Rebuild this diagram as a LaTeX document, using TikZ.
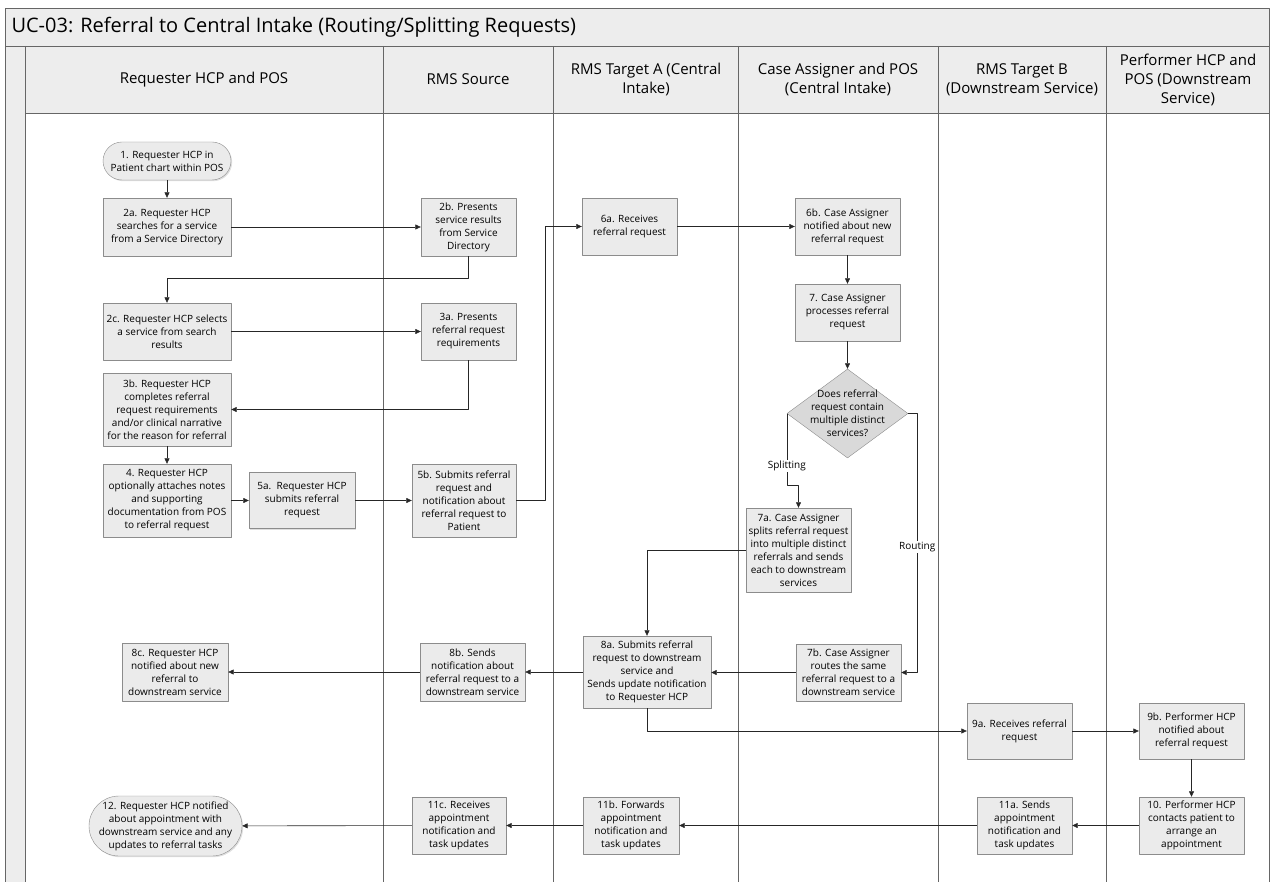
\documentclass[tikz,border=0pt]{standalone}
\usepackage{fontspec}
\setmainfont{Open Sans}
\usetikzlibrary{arrows.meta,shapes.geometric,shadows}
\begin{document}
\begin{tikzpicture}[x=1pt,y=-1pt,line join=round,>={Triangle[length=5.5pt,width=5pt]},
	lane/.style={draw=black!60,line width=0.8pt},
	band/.style={fill=black!7},
	hd/.style={align=center,font=\fontsize{15}{19}\selectfont},
	proc/.style 2 args={draw=black!45,fill=black!8,minimum width=#1,minimum height=#2,inner sep=1pt,align=center,font=\fontsize{10}{13}\selectfont,drop shadow={shadow xshift=1.2pt,shadow yshift=-1.2pt,opacity=0.25}},
	term/.style 2 args={proc={#1}{#2},rounded corners=#2/2},
	dec/.style={diamond,draw=black!45,fill=black!15,minimum width=121pt,minimum height=89pt,inner sep=0pt},
	conn/.style={draw=black!85,line width=0.6pt,->},
	lbl/.style={fill=white,inner sep=1pt,font=\fontsize{10}{12}\selectfont}]
	\useasboundingbox (0,0) rectangle (1271,882);
	% frame and lanes
	\fill[band] (5,8) rectangle (1269.5,113);
	\fill[band] (5,113) rectangle (25,882);
	\draw[lane] (5,882) -- (5,8) -- (1269.5,8) -- (1269.5,882);
	\draw[lane] (5,46) -- (1269.5,46) (25,113) -- (1269.5,113);
	\foreach \x in {25,383,553.5,738,938.5,1106}
		\draw[lane] (\x,46) -- (\x,882);
	\node[anchor=west,font=\fontsize{20}{24}\selectfont] (title) at (8,27) {UC-03: Referral to Central Intake (Routing/Splitting Requests)};
	\node[hd] (hreq) at (204,79.5) {Requester HCP and POS};
	\node[hd] (hsrc) at (468,79.5) {RMS Source};
	\node[hd] (htga) at (646,79.5) {RMS Target A (Central\\Intake)};
	\node[hd] (hcase) at (838,79.5) {Case Assigner and POS\\(Central Intake)};
	\node[hd] (htgb) at (1022,79.5) {RMS Target B\\(Downstream Service)};
	\node[hd] (hperf) at (1188,79.5) {Performer HCP and\\POS (Downstream\\Service)};
	% steps
	\node[term={128pt}{38pt}] (n1) at (167,161) {1. Requester HCP in\\Patient chart within POS};
	\node[proc={128pt}{58pt}] (n2a) at (167,227) {2a. Requester HCP\\searches for a service\\from a Service Directory};
	\node[proc={95pt}{58pt}] (n2b) at (468.5,227) {2b. Presents\\service results\\from Service\\Directory};
	\node[proc={128pt}{57pt}] (n2c) at (167,331.5) {2c. Requester HCP selects\\a service from search\\results};
	\node[proc={95pt}{57pt}] (n3a) at (468.5,331.5) {3a. Presents\\referral request\\requirements};
	\node[proc={128pt}{73pt}] (n3b) at (167,409.5) {3b. Requester HCP\\completes referral\\request requirements\\and/or clinical narrative\\for the reason for referral};
	\node[proc={128pt}{73pt}] (n4) at (167,500.5) {4. Requester HCP\\optionally attaches notes\\and supporting\\documentation from POS\\to referral request};
	\node[proc={106pt}{56pt}] (n5a) at (302,500.5) {5a.\ \ Requester HCP\\submits referral\\request};
	\node[proc={104pt}{73pt}] (n5b) at (464,500.5) {5b. Submits referral\\request and\\notification about\\referral request to\\Patient};
	\node[proc={95pt}{57pt}] (n6a) at (629.5,226.5) {6a. Receives\\referral request};
	\node[proc={105pt}{57pt}] (n6b) at (847.5,226.5) {6b. Case Assigner\\notified about new\\referral request};
	\node[proc={105pt}{57pt}] (n7) at (847.5,312.5) {7. Case Assigner\\processes referral\\request};
	\node[dec] (dia) at (847.5,413.5) {};
	\node[align=center,font=\fontsize{10}{13}\selectfont] (diat) at (dia) {Does referral\\request contain\\multiple distinct\\services?};
	\node[proc={105pt}{84pt}] (n7a) at (798.5,550) {7a. Case Assigner\\splits referral request\\into multiple distinct\\referrals and sends\\each to downstream\\services};
	\node[proc={105pt}{57pt}] (n7b) at (848.5,672.5) {7b. Case Assigner\\routes the same\\referral request to a\\downstream service};
	\node[proc={128pt}{72pt}] (n8a) at (647,672) {8a. Submits referral\\request to downstream\\service and\\Sends update notification\\to Requester HCP};
	\node[proc={105pt}{58pt}] (n8b) at (472.5,672) {8b. Sends\\notification about\\referral request to a\\downstream service};
	\node[proc={106pt}{58pt}] (n8c) at (175,672) {8c. Requester HCP\\notified about new\\referral to\\downstream service};
	\node[proc={105pt}{56pt}] (n9a) at (1019.5,731) {9a. Receives referral\\request};
	\node[proc={105pt}{56pt}] (n9b) at (1191.5,731) {9b. Performer HCP\\notified about\\referral request};
	\node[proc={105pt}{57pt}] (n10) at (1191.5,825.5) {10. Performer HCP\\contacts patient to\\arrange an\\appointment};
	\node[proc={95pt}{57pt}] (n11a) at (1024.5,825.5) {11a. Sends\\appointment\\notification and\\task updates};
	\node[proc={96pt}{57pt}] (n11b) at (631,825.5) {11b. Forwards\\appointment\\notification and\\task updates};
	\node[proc={94pt}{57pt}] (n11c) at (459,825.5) {11c. Receives\\appointment\\notification and\\task updates};
	\node[term={153pt}{60pt}] (n12) at (165.5,826) {12. Requester HCP notified\\about appointment with\\downstream service and any\\updates to referral tasks};
	% flow
	\draw[conn] (n1) -- (n2a);
	\draw[conn] (n2a) -- (n2b);
	\draw[conn] (n2b.south) -- ++(0,22) -| (n2c.north);
	\draw[conn] (n2c) -- (n3a);
	\draw[conn] (n3a.south) |- (n3b.east);
	\draw[conn] (n3b) -- (n4);
	\draw[conn] (n4) -- (n5a);
	\draw[conn] (n5a) -- (n5b);
	\draw[conn] (n5b.east) -- ++(29,0) |- (n6a.west);
	\draw[conn] (n6a) -- (n6b);
	\draw[conn] (n6b) -- (n7);
	\draw[conn] (n7) -- (dia);
	\draw[conn] (dia.west) -- ++(0,71.5) node[lbl,pos=0.73]{Splitting} -| (n7a.north);
	\draw[conn] (dia.east) -- ++(9,0) coordinate (rt) -- (rt |- n7b.east) node[lbl,pos=0.515]{Routing} -- (n7b.east);
	\draw[conn] (n7a.west) -| (n8a.north);
	\draw[conn] (n7b.west) -- (n7b.west -| n8a.east);
	\draw[conn] (n8a) -- (n8b);
	\draw[conn] (n8b) -- (n8c);
	\draw[conn] (n8a.south) |- (n9a.west);
	\draw[conn] (n9a) -- (n9b);
	\draw[conn] (n9b) -- (n10);
	\draw[conn] (n10) -- (n11a);
	\draw[conn] (n11a) -- (n11b);
	\draw[conn] (n11b) -- (n11c);
	\draw[conn] (n11c) -- (n12);
\end{tikzpicture}
\end{document}
